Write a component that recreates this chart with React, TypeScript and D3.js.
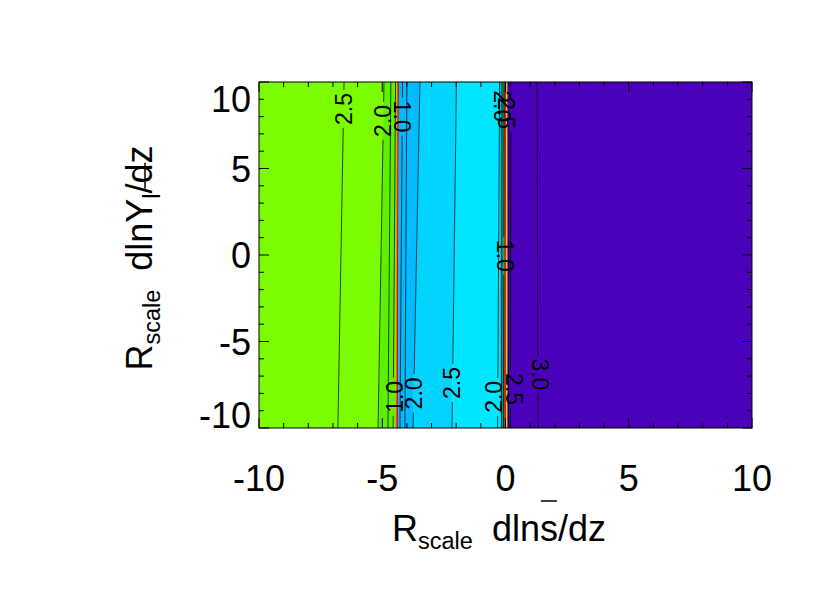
import React, { useLayoutEffect, useRef, useState } from "react";
import * as d3 from "d3";

const W = 830;
const H = 593;
const PL = 259, PR = 752, PT = 82, PB = 428;
const FONT = "'Liberation Sans', Arial, Helvetica, sans-serif";

const xTickValues = [-10, -5, 0, 5, 10];
const yTickValues = [-10, -5, 0, 5, 10];
const minorTickValues = [-9, -8, -7, -6, -4, -3, -2, -1, 1, 2, 3, 4, 6, 7, 8, 9];

// filled band edges at y = +10 (top) and y = -10 (bottom)
const bandEdgeTop = [-10, -4.93, -4.42, -4.38, -4.32, -3.47, -1.99, -0.22, -0.08, -0.04, 0.02, 0.08, 10];
const bandEdgeBottom = [-10, -5.17, -4.48, -4.42, -4.36, -3.75, -2.17, -0.2, -0.08, -0.04, 0.02, 0.08, 10];
const bandColors = ["#7cfc00", "#5ef000", "#c8b400", "#e60000", "#00bcff", "#00d4ff", "#00e6ff", "#00a5b4", "#00a000", "#dc0000", "#e6d200", "#4b00b9"];

// contour lines
const lineLevels = [2.5, 2.0, 1.5, 1.0, 1.0, 1.5, 2.0, 2.5, 2.0, 1.5, 1.0, 2.0, 2.5, 3.0];
const lineTop = [-6.55, -4.93, -4.65, -4.46, -4.18, -4.0, -3.47, -1.99, -0.24, -0.14, -0.06, 0.14, 0.22, 1.28];
const lineBottom = [-6.8, -5.17, -4.77, -4.56, -4.28, -4.08, -3.75, -2.17, -0.32, -0.16, -0.08, 0.12, 0.2, 1.32];

// contour labels
const labelText = ["2.5", "2.0", "1.0", "1.0", "2.0", "2.5", "2.0", "2.5", "3.0", "1.0", "2.0", "2.5"];
const labelX = [-6.57, -4.97, -4.2, -4.48, -3.71, -2.17, -0.47, 0.34, 1.4, -0.02, -0.14, 0.02];
const labelY = [8.44, 7.75, 8.0, -8.2, -8.0, -7.4, -8.2, -7.75, -6.9, -0.05, 8.6, 8.2];
const labelRot = [-90, -90, 90, -90, -90, -90, -90, 90, 90, 90, 90, 90];
const labelLine = [0, 1, 4, 3, 6, 7, 8, 12, 13, 10, 11, 12];

const x = d3.scaleLinear().domain([-10, 10]).range([PL, PR]);
const y = d3.scaleLinear().domain([-10, 10]).range([PB, PT]);

type Bar = { x: number; y: number; w: number } | null;

export default function App() {
  const xTitleRef = useRef<SVGTextElement>(null);
  const yTitleRef = useRef<SVGTextElement>(null);
  const [bars, setBars] = useState<{ bx: Bar; by: Bar }>({ bx: null, by: null });

  useLayoutEffect(() => {
    const get = (el: SVGTextElement | null, i: number): Bar => {
      if (!el) return null;
      try {
        const r = el.getExtentOfChar(i);
        return { x: r.x, y: r.y, w: r.width };
      } catch (e) {
        return null;
      }
    };
    setBars({ bx: get(xTitleRef.current, 9), by: get(yTitleRef.current, 9) });
  }, []);

  const labelFont = 23;
  const labelHalf = (labelFont * 1.39) / 2 + 3;

  const segs: { x1: number; y1: number; x2: number; y2: number }[] = [];
  lineLevels.forEach((_, i) => {
    const yt = y(10), yb = y(-10);
    const xt = x(lineTop[i]), xb = x(lineBottom[i]);
    const gaps = labelLine
      .map((li, k) => (li === i ? [y(labelY[k]) - labelHalf, y(labelY[k]) + labelHalf] : null))
      .filter((g) => g !== null) as number[][];
    gaps.sort((a, b) => a[0] - b[0]);
    let cur = yt;
    const xAt = (py: number) => xt + ((py - yt) / (yb - yt)) * (xb - xt);
    gaps.forEach(([g0, g1]) => {
      if (g0 > cur) segs.push({ x1: xAt(cur), y1: cur, x2: xAt(g0), y2: g0 });
      cur = Math.max(cur, g1);
    });
    if (cur < yb) segs.push({ x1: xAt(cur), y1: cur, x2: xAt(yb), y2: yb });
  });

  const tickFs = 36;
  const titleFs = 36;
  const subFs = 23.5;
  const barGap = 7;
  const yLabelBase = (v: number) => Math.min(Math.max(y(v) + 13, PT + 30), PB);

  return (
    <svg
      width={W}
      height={H}
      style={{ position: "fixed", left: 0, top: 0, background: "#fff" }}
      fontFamily={FONT}
    >
      <rect x={0} y={0} width={W} height={H} fill="#fff" />
      <defs>
        <clipPath id="plotclip">
          <rect x={PL} y={PT} width={PR - PL} height={PB - PT} />
        </clipPath>
      </defs>
      <g clipPath="url(#plotclip)">
        {bandColors.map((c, i) => (
          <polygon
            key={i}
            fill={c}
            stroke={c}
            strokeWidth={0.3}
            points={[
              [x(bandEdgeTop[i]), y(10)],
              [x(bandEdgeTop[i + 1]), y(10)],
              [x(bandEdgeBottom[i + 1]), y(-10)],
              [x(bandEdgeBottom[i]), y(-10)],
            ]
              .map((p) => p.join(","))
              .join(" ")}
          />
        ))}
        {segs.map((s, i) => (
          <line key={i} x1={s.x1} y1={s.y1} x2={s.x2} y2={s.y2} stroke="#000" strokeWidth={0.7} />
        ))}
        {labelText.map((t, i) => (
          <text
            key={i}
            x={0}
            y={0}
            transform={`translate(${x(labelX[i])},${y(labelY[i])}) rotate(${labelRot[i]})`}
            textAnchor="middle"
            dominantBaseline="central"
            fontSize={labelFont}
            fill="#000"
          >
            {t}
          </text>
        ))}
      </g>

      {/* frame */}
      <rect x={PL} y={PT} width={PR - PL} height={PB - PT} fill="none" stroke="#000" strokeWidth={1} />

      {/* ticks */}
      <g stroke="#000" strokeWidth={1}>
        {xTickValues.map((v) => (
          <g key={"xt" + v}>
            <line x1={x(v)} x2={x(v)} y1={PB} y2={PB - 10} />
            <line x1={x(v)} x2={x(v)} y1={PT} y2={PT + 10} />
          </g>
        ))}
        {minorTickValues.map((v) => (
          <g key={"xm" + v}>
            <line x1={x(v)} x2={x(v)} y1={PB} y2={PB - 5} />
            <line x1={x(v)} x2={x(v)} y1={PT} y2={PT + 5} />
          </g>
        ))}
        {yTickValues.map((v) => (
          <g key={"yt" + v}>
            <line x1={PL} x2={PL + 10} y1={y(v)} y2={y(v)} />
            <line x1={PR} x2={PR - 10} y1={y(v)} y2={y(v)} />
          </g>
        ))}
        {minorTickValues.map((v) => (
          <g key={"ym" + v}>
            <line x1={PL} x2={PL + 5} y1={y(v)} y2={y(v)} />
            <line x1={PR} x2={PR - 5} y1={y(v)} y2={y(v)} />
          </g>
        ))}
      </g>

      {/* tick labels */}
      {xTickValues.map((v) => (
        <text key={"xl" + v} x={x(v)} y={491} textAnchor="middle" fontSize={tickFs} fill="#000">
          {v < 0 ? "-" + Math.abs(v) : String(v)}
        </text>
      ))}
      {yTickValues.map((v) => (
        <text key={"yl" + v} x={251} y={yLabelBase(v)} textAnchor="end" fontSize={tickFs} fill="#000">
          {v < 0 ? "-" + Math.abs(v) : String(v)}
        </text>
      ))}

      {/* x title */}
      <g transform="translate(499,541)">
        <text ref={xTitleRef} x={0} y={0} textAnchor="middle" fontSize={titleFs} fill="#000">
          <tspan>R</tspan>
          <tspan fontSize={subFs} dy={8}>scale</tspan>
          <tspan dy={-8} dx={19}>dlns/dz</tspan>
        </text>
        {bars.bx && (
          <line x1={bars.bx.x + 1} x2={bars.bx.x + bars.bx.w - 1} y1={bars.bx.y - barGap} y2={bars.bx.y - barGap} stroke="#000" strokeWidth={1.5} />
        )}
      </g>

      {/* y title */}
      <g transform="translate(152,258) rotate(-90)">
        <text ref={yTitleRef} x={0} y={0} textAnchor="middle" fontSize={titleFs} fill="#000">
          <tspan>R</tspan>
          <tspan fontSize={subFs} dy={8}>scale</tspan>
          <tspan dy={-8} dx={19}>dlnY</tspan>
          <tspan fontSize={subFs} dy={8}>l</tspan>
          <tspan dy={-8}>/dz</tspan>
        </text>
        {bars.by && (
          <line x1={bars.by.x + 34} x2={bars.by.x + bars.by.w + 36} y1={-7} y2={-7} stroke="#000" strokeWidth={1.5} />
        )}
      </g>
    </svg>
  );
}
